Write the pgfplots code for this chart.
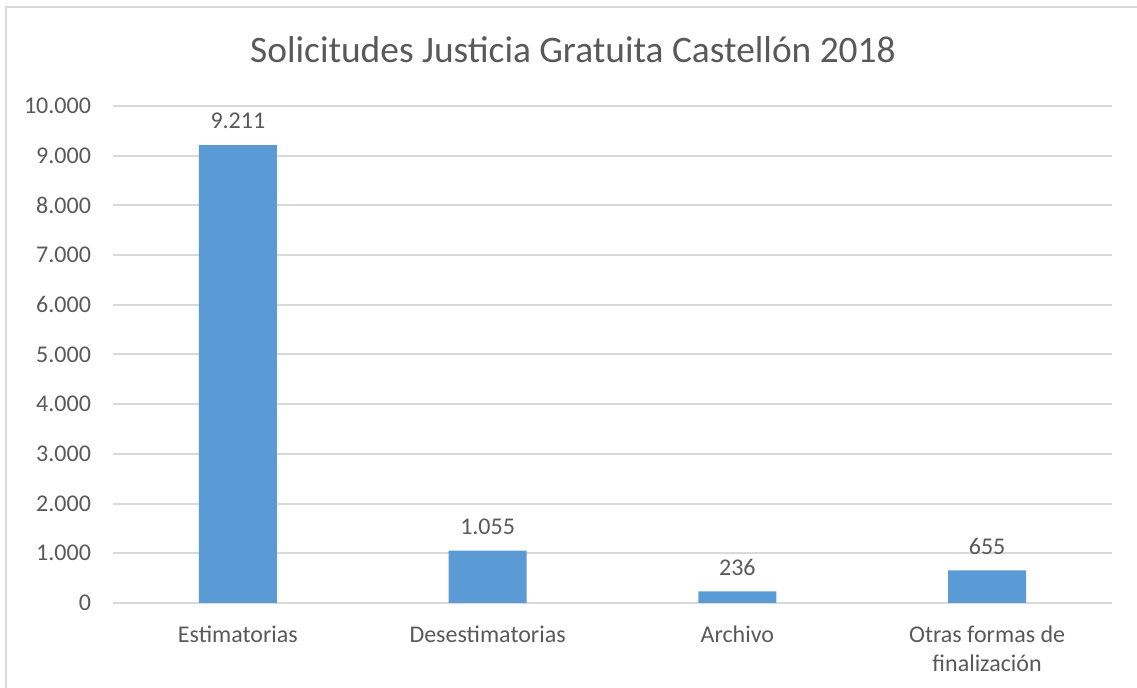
\documentclass[border=0pt]{standalone}
\usepackage{pgfplots}
\pgfplotsset{compat=1.18}
\usepackage{fontspec}
\setmainfont{Carlito}
\definecolor{barblue}{HTML}{5B9BD5}
\definecolor{txtgray}{HTML}{595959}
\definecolor{gridgray}{HTML}{D9D9D9}
% 1 px of the reference = 0.5pt
\begin{document}
\begin{tikzpicture}
  \useasboundingbox (0,0) rectangle (568.5pt,344pt);
  \draw[gridgray, line width=1pt] (3pt,-3pt) -- (3pt,340.5pt) -- (572pt,340.5pt);
  \node[txtgray, font=\fontsize{18.7}{22}\selectfont] at (286.5pt,319pt) {Solicitudes Justicia Gratuita Castellón 2018};
  \begin{axis}[
      at={(56.5pt,42.5pt)}, anchor=south west,
      scale only axis,
      width=499.5pt, height=248.5pt,
      ybar, bar width=39pt,
      xmin=-0.5, xmax=3.5,
      ymin=0, ymax=10000,
      ytick={0,1000,...,10000},
      scaled y ticks=false,
      xtick=data,
      xticklabels={Estimatorias,Desestimatorias,Archivo,{Otras formas de\\finalización}},
      axis x line*=bottom,
      axis y line*=left,
      y axis line style={draw=none},
      x axis line style={gridgray, line width=1pt, -},
      ymajorgrids,
      grid style={gridgray, line width=1pt},
      major tick length=0pt,
      tick label style={txtgray, font=\fontsize{12}{14.5}\selectfont},
      xticklabel style={align=center, yshift=-8pt},
      yticklabel style={xshift=-7.5pt},
      /pgf/number format/.cd, 1000 sep={.}, assume math mode=true,
      /pgfplots/.cd,
      nodes near coords,
      every node near coord/.append style={txtgray, font=\fontsize{12}{14.5}\selectfont, yshift=4.5pt},
      clip=false,
    ]
    \addplot[fill=barblue, draw=none] coordinates {(0,9211) (1,1055) (2,236) (3,655)};
  \end{axis}
\end{tikzpicture}
\end{document}
